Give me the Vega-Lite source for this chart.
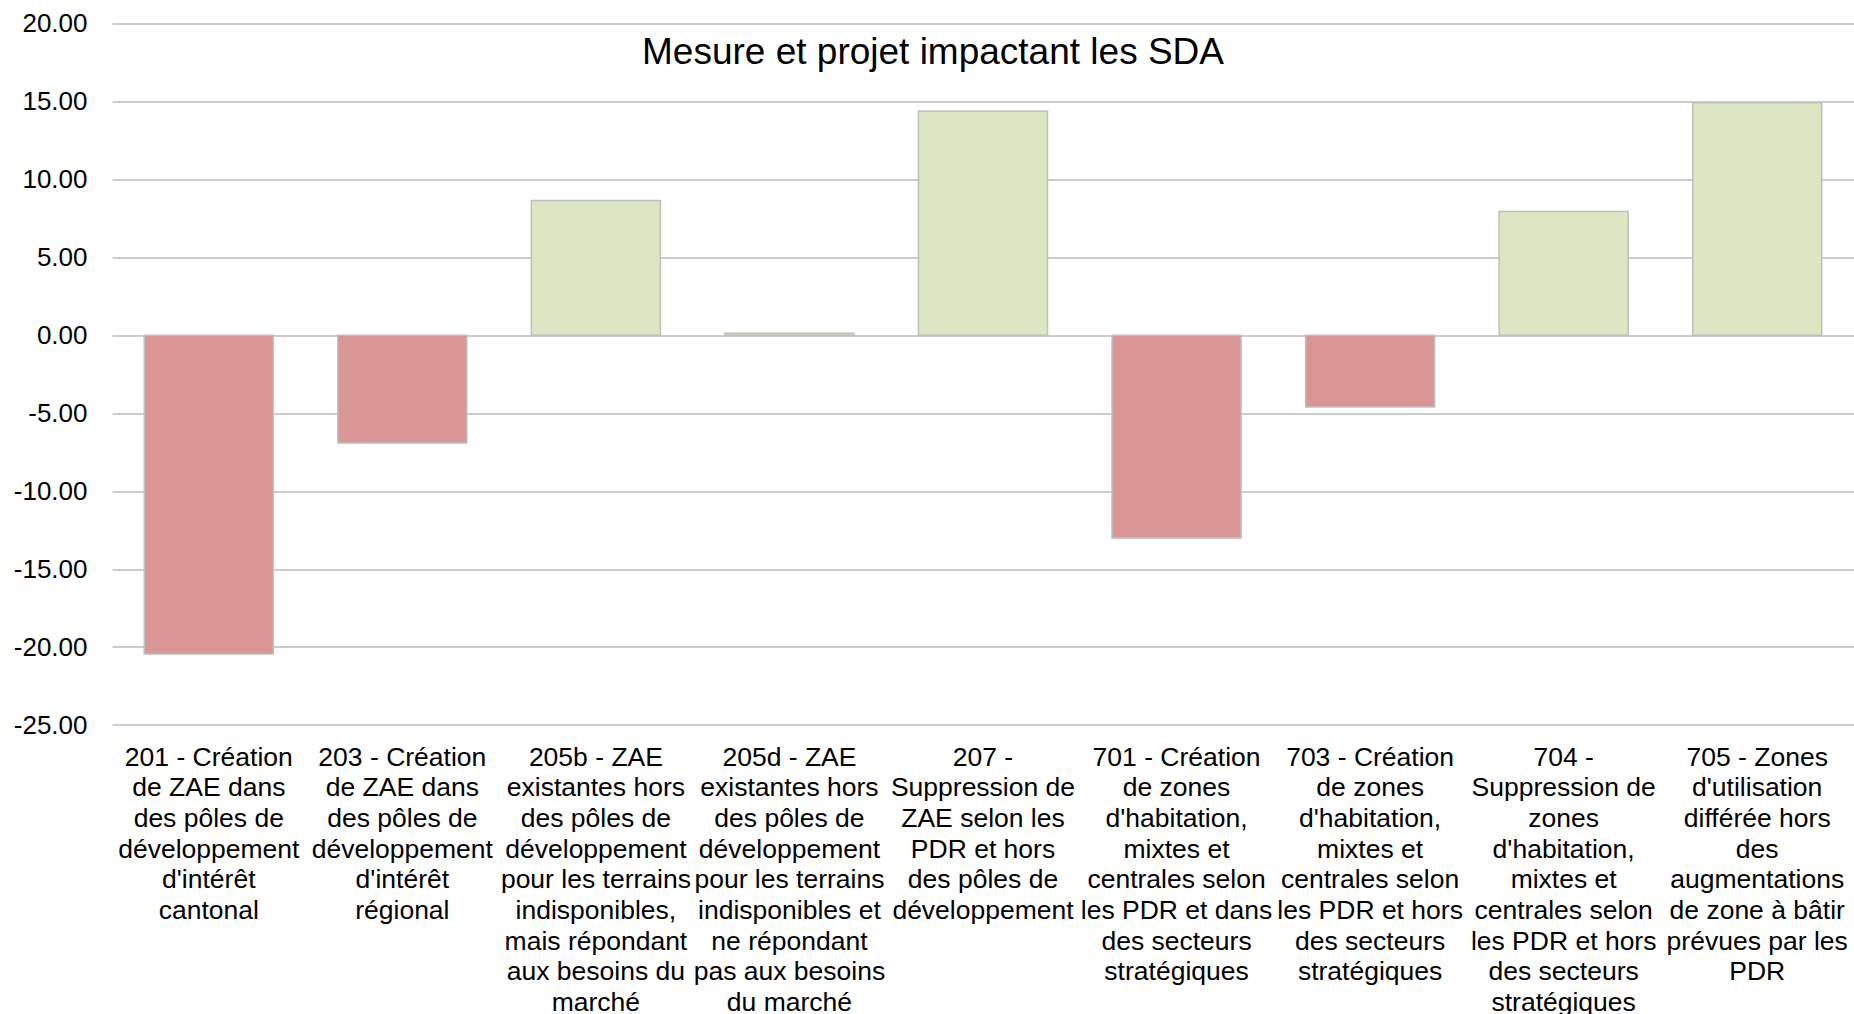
{
  "$schema": "https://vega.github.io/schema/vega-lite/v6.json",
  "autosize": "none",
  "padding": {"left": 112, "top": 23.6, "right": 0, "bottom": 289},
  "width": 1742,
  "height": 701.4,
  "background": "white",
  "title": {
    "text": "Mesure et projet impactant les SDA",
    "font": "Liberation Sans",
    "fontSize": 37,
    "fontWeight": "normal",
    "color": "#000000",
    "anchor": "middle",
    "baseline": "alphabetic",
    "offset": -90,
    "dx": -50
  },
  "data": {
    "values": [
      {"mesure": "201 - Création\nde ZAE dans\ndes pôles de\ndéveloppement\nd'intérêt\ncantonal", "valeur": -20.45},
      {"mesure": "203 - Création\nde ZAE dans\ndes pôles de\ndéveloppement\nd'intérêt\nrégional", "valeur": -6.9},
      {"mesure": "205b - ZAE\nexistantes hors\ndes pôles de\ndéveloppement\npour les terrains\nindisponibles,\nmais répondant\naux besoins du\nmarché", "valeur": 8.65},
      {"mesure": "205d - ZAE\nexistantes hors\ndes pôles de\ndéveloppement\npour les terrains\nindisponibles et\nne répondant\npas aux besoins\ndu marché", "valeur": 0.13},
      {"mesure": "207 -\nSuppression de\nZAE selon les\nPDR et hors\ndes pôles de\ndéveloppement", "valeur": 14.4},
      {"mesure": "701 - Création\nde zones\nd'habitation,\nmixtes et\ncentrales selon\nles PDR et dans\ndes secteurs\nstratégiques", "valeur": -13.0},
      {"mesure": "703 - Création\nde zones\nd'habitation,\nmixtes et\ncentrales selon\nles PDR et hors\ndes secteurs\nstratégiques", "valeur": -4.6},
      {"mesure": "704 -\nSuppression de\nzones\nd'habitation,\nmixtes et\ncentrales selon\nles PDR et hors\ndes secteurs\nstratégiques", "valeur": 7.94},
      {"mesure": "705 - Zones\nd'utilisation\ndifférée hors\ndes\naugmentations\nde zone à bâtir\nprévues par les\nPDR", "valeur": 14.92}
    ]
  },
  "mark": {"type": "bar", "stroke": "#BFBFBF", "strokeWidth": 1.5},
  "encoding": {
    "x": {
      "field": "mesure",
      "type": "nominal",
      "sort": null,
      "scale": {"paddingInner": 0.3333, "paddingOuter": 0.1667},
      "axis": {
        "title": null,
        "labelAngle": 0,
        "labelExpr": "split(datum.label, '\\n')",
        "labelFont": "Liberation Sans",
        "labelFontSize": 26.5,
        "labelLineHeight": 30.7,
        "labelColor": "#000000",
        "labelBaseline": "top",
        "labelPadding": 19,
        "labelLimit": 0,
        "labelOverlap": false,
        "labelBound": false,
        "labelFlush": false,
        "domain": false,
        "ticks": false,
        "grid": false
      }
    },
    "y": {
      "field": "valeur",
      "type": "quantitative",
      "scale": {"domain": [-25, 20], "nice": false, "zero": false},
      "axis": {
        "title": null,
        "values": [-25, -20, -15, -10, -5, 0, 5, 10, 15, 20],
        "format": ".2f",
        "labelExpr": "replace(datum.label, '\u2212', '-')",
        "labelFont": "Liberation Sans",
        "labelFontSize": 26,
        "labelColor": "#000000",
        "labelPadding": 25,
        "domain": false,
        "ticks": false,
        "grid": true,
        "gridColor": "#CCCCCC",
        "gridWidth": 2,
        "zindex": 0
      }
    },
    "color": {
      "condition": {"test": "datum.valeur < 0", "value": "#D99694"},
      "value": "#DCE6C3"
    }
  },
  "config": {"view": {"stroke": null}}
}
